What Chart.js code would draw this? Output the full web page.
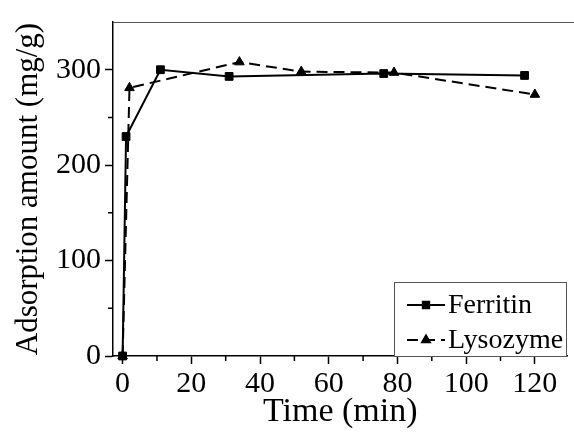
<!DOCTYPE html>
<html>
<head>
<meta charset="utf-8">
<script src="https://cdn.jsdelivr.net/npm/chart.js@4"></script>
<style>
  html, body { margin: 0; padding: 0; background: #fff; }
  #wrap { width: 574px; height: 439px; }
</style>
</head>
<body>
<div id="wrap"><canvas id="chart" width="574" height="439"></canvas></div>
<script>
// values
const ferritinTime = [0, 1, 11, 31, 76, 117];
const ferritinAmount = [0, 230, 300, 293, 296, 294];
const lysozymeTime = [0, 2, 34, 52, 79, 120];
const lysozymeAmount = [0, 281, 308, 298, 297, 274];
const seriesNames = ['Ferritin', 'Lysozyme'];
const xMajorTicks = [0, 20, 40, 60, 80, 100, 120];
const yMajorTicks = [0, 100, 200, 300];

const FONT = "'Liberation Serif', 'Times New Roman', serif";

function toPoints(xs, ys) {
  return xs.map((x, i) => ({x: x, y: ys[i]}));
}

function tickColor(majors) {
  return c => (c.tick && majors.includes(c.tick.value)) ? '#000' : 'rgba(0,0,0,0)';
}

// minor ticks, top frame line and the boxed legend
const extras = {
  id: 'extras',
  afterDraw(chart) {
    const ctx = chart.ctx;
    const a = chart.chartArea;
    const xs = chart.scales.x, ys = chart.scales.y;
    ctx.save();

    ctx.strokeStyle = '#555';
    ctx.lineWidth = 1;
    ctx.beginPath();
    ctx.moveTo(a.left, a.top + 0.5);
    ctx.lineTo(chart.width, a.top + 0.5);
    ctx.stroke();

    ctx.strokeStyle = '#000';
    ctx.lineWidth = 1.5;
    ctx.beginPath();
    xs.ticks.forEach(t => {
      if (xMajorTicks.includes(t.value)) return;
      const px = xs.getPixelForValue(t.value);
      ctx.moveTo(px, a.bottom);
      ctx.lineTo(px, a.bottom + 5);
    });
    ys.ticks.forEach(t => {
      if (yMajorTicks.includes(t.value) || t.value >= 350) return;
      const py = ys.getPixelForValue(t.value);
      ctx.moveTo(a.left, py);
      ctx.lineTo(a.left - 5, py);
    });
    ctx.stroke();

    // legend box
    const boxL = 394, boxT = 282, boxR = a.right - 1.5, boxB = a.bottom;
    ctx.fillStyle = '#fff';
    ctx.fillRect(boxL, boxT, boxR - boxL, boxB - boxT);
    ctx.strokeStyle = '#555';
    ctx.lineWidth = 1;
    ctx.strokeRect(boxL + 0.5, boxT + 0.5, boxR - boxL, boxB - boxT);

    const rows = [305, 340];
    chart.data.datasets.forEach((ds, i) => {
      const y = rows[i];
      ctx.strokeStyle = '#000';
      ctx.lineWidth = ds.borderWidth;
      ctx.setLineDash(ds.borderDash || []);
      ctx.beginPath();
      ctx.moveTo(407, y);
      ctx.lineTo(445, y);
      ctx.stroke();
      ctx.setLineDash([]);
      ctx.fillStyle = '#000';
      Chart.helpers.drawPoint(ctx, {
        pointStyle: ds.pointStyle, radius: ds.pointRadius - 1, rotation: 0, borderWidth: 1
      }, 426, y);
      ctx.fillStyle = '#000';
      ctx.font = '28px ' + FONT;
      ctx.textAlign = 'left';
      ctx.textBaseline = 'middle';
      ctx.fillText(ds.label, 448, y + 1);
    });
    ctx.restore();
  }
};

const data = {
  datasets: [
    {
      label: seriesNames[0],
      data: toPoints(ferritinTime, ferritinAmount),
      borderColor: '#000',
      backgroundColor: '#000',
      borderWidth: 2,
      pointStyle: 'rect',
      pointRadius: 5.5,
      pointBorderWidth: 1,
      clip: false
    },
    {
      label: seriesNames[1],
      data: toPoints(lysozymeTime, lysozymeAmount),
      borderColor: '#000',
      backgroundColor: '#000',
      borderWidth: 2,
      borderDash: [11, 6],
      pointStyle: 'triangle',
      pointRadius: 5.5,
      pointBorderWidth: 1,
      clip: false
    }
  ]
};

new Chart(document.getElementById('chart'), {
  type: 'line',
  data: data,
  plugins: [extras],
  options: {
    responsive: false,
    animation: false,
    devicePixelRatio: 1,
    layout: {padding: {left: 0, right: 0, top: 22, bottom: 0}},
    plugins: {legend: {display: false}, tooltip: {enabled: false}},
    scales: {
      x: {
        type: 'linear',
        min: -2.8,
        max: 129.5,
        border: {color: '#000', width: 1.5},
        grid: {drawOnChartArea: false, tickLength: 8, tickWidth: 1.5, tickColor: tickColor(xMajorTicks)},
        ticks: {
          stepSize: 10,
          includeBounds: false,
          autoSkip: false,
          maxRotation: 0,
          padding: 2,
          color: '#000',
          font: {family: FONT, size: 30},
          callback: v => xMajorTicks.includes(v) ? String(v) : ''
        },
        title: {display: true, text: 'Time (min)', color: '#000', font: {family: FONT, size: 34}, padding: {top: 0, bottom: 7}},
        afterFit: s => { s.height = 83; s.paddingLeft = 0; s.paddingRight = 0; }
      },
      y: {
        min: 0,
        max: 350,
        border: {color: '#000', width: 1.5},
        grid: {drawOnChartArea: false, tickLength: 8, tickWidth: 1.5, tickColor: tickColor(yMajorTicks)},
        ticks: {
          stepSize: 50,
          includeBounds: false,
          autoSkip: false,
          padding: 4,
          color: '#000',
          font: {family: FONT, size: 30},
          callback: v => yMajorTicks.includes(v) ? String(v) : ''
        },
        title: {display: true, text: 'Adsorption amount (mg/g)', color: '#000', font: {family: FONT, size: 31}, padding: {top: 10, bottom: 0}},
        afterFit: s => { s.width = 113; s.paddingTop = 0; s.paddingBottom = 0; }
      }
    }
  }
});
</script>
</body>
</html>
